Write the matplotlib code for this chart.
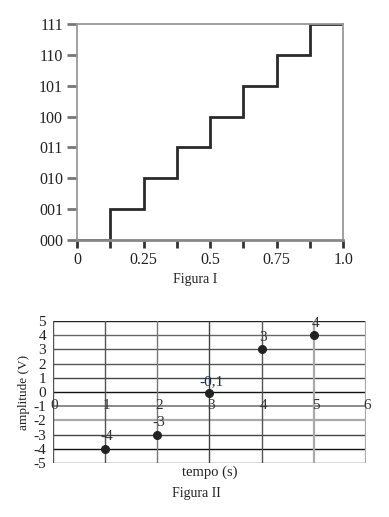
import numpy as np
import matplotlib.pyplot as plt

plt.rcParams['font.family'] = ['Liberation Serif', 'DejaVu Serif']

# Figura I - quantizer staircase
step_edges = [0, 0.125, 0.25, 0.375, 0.5, 0.625, 0.75, 0.875, 1.0]
step_levels = [0, 1, 2, 3, 4, 5, 6, 7]
code_labels = ['000', '001', '010', '011', '100', '101', '110', '111']
x1_ticks = [0, 0.125, 0.25, 0.375, 0.5, 0.625, 0.75, 0.875, 1.0]
x1_labels = ['0', '', '0.25', '', '0.5', '', '0.75', '', '1.0']

# Figura II - sampled amplitudes
t_samples = [1, 2, 3, 4, 5]
amp_samples = [-4, -3, -0.1, 3, 4]
amp_text = ['-4', '-3', '-0,1', '3', '4']
x2_ticks = [0, 1, 2, 3, 4, 5, 6]
y2_ticks = [5, 4, 3, 2, 1, 0, -1, -2, -3, -4, -5]

fig = plt.figure(figsize=(3.89, 5.17), dpi=100)

# ---- Figura I ----
ax1 = fig.add_axes([0.198, 0.5358, 0.684, 0.4178])
xs = step_edges
ys = step_levels + [step_levels[-1]]
ax1.step(xs, ys, where='post', color='#2a2a2a', lw=2.0, solid_joinstyle='miter')
ax1.set_xlim(0, 1.0)
ax1.set_ylim(0, 7)
ax1.set_yticks(range(8))
ax1.set_yticklabels(code_labels, fontsize=11.5, color='#222')
ax1.set_xticks(x1_ticks)
ax1.set_xticklabels(x1_labels, fontsize=11.5, color='#222')
ax1.tick_params(axis='y', length=7, width=2, color='#777', pad=3)
ax1.tick_params(axis='x', length=6, width=2, color='#333', pad=3)
for s in ax1.spines.values():
    s.set_color('#999')
    s.set_linewidth(1.3)
ax1.spines['bottom'].set_color('#888')
ax1.spines['bottom'].set_linewidth(2)
fig.text(0.501, 1 - 279 / 517, 'Figura I', ha='center', va='center', fontsize=10, color='#222')

# ---- Figura II ----
ax2 = fig.add_axes([0.136, 0.1044, 0.805, 0.2747])
ax2.set_xlim(0, 6)
ax2.set_ylim(-5, 5)
h_colors = {5: '#222', 4: '#666', 3: '#555', 2: '#555', 1: '#444', 0: '#111',
            -1: '#777', -2: '#aaa', -3: '#444', -4: '#111', -5: '#444'}
h_widths = {-2: 1.6, -1: 1.2}
for yv in y2_ticks:
    ax2.axhline(yv, color=h_colors[yv], lw=h_widths.get(yv, 1.0), zorder=1)
v_colors = {0: '#555', 1: '#555', 2: '#777', 3: '#444', 4: '#555', 5: '#aaa', 6: '#aaa'}
v_widths = {5: 1.6, 6: 1.6}
for xv in x2_ticks:
    ax2.axvline(xv, color=v_colors[xv], lw=v_widths.get(xv, 1.0), zorder=1)
for s in ax2.spines.values():
    s.set_visible(False)
ax2.set_xticks([])
ax2.set_yticks(y2_ticks)
ax2.set_yticklabels([str(v) for v in y2_ticks], fontsize=11, color='#222')
ax2.tick_params(axis='y', length=0, pad=5)
for xv in x2_ticks:
    ax2.text(xv + 0.03, -0.95, str(xv), ha='center', va='center', fontsize=11, color='#333', zorder=3)
ax2.plot(t_samples, amp_samples, 'o', color='#222', ms=5.5, zorder=4)
for t, a, lab in zip(t_samples, amp_samples, amp_text):
    ax2.text(t + 0.03, a + 0.85, lab, ha='center', va='center', fontsize=11,
             color='#1a2a55' if lab == '-0,1' else '#333', zorder=4)
ax2.set_ylabel('amplitude (V)', fontsize=9.5, color='#222', labelpad=2)
fig.text(0.54, 1 - 472 / 517, 'tempo (s)', ha='center', va='center', fontsize=10.5, color='#222')
fig.text(0.504, 1 - 494 / 517, 'Figura II', ha='center', va='center', fontsize=10, color='#222')

fig.savefig('out.png', dpi=100)
